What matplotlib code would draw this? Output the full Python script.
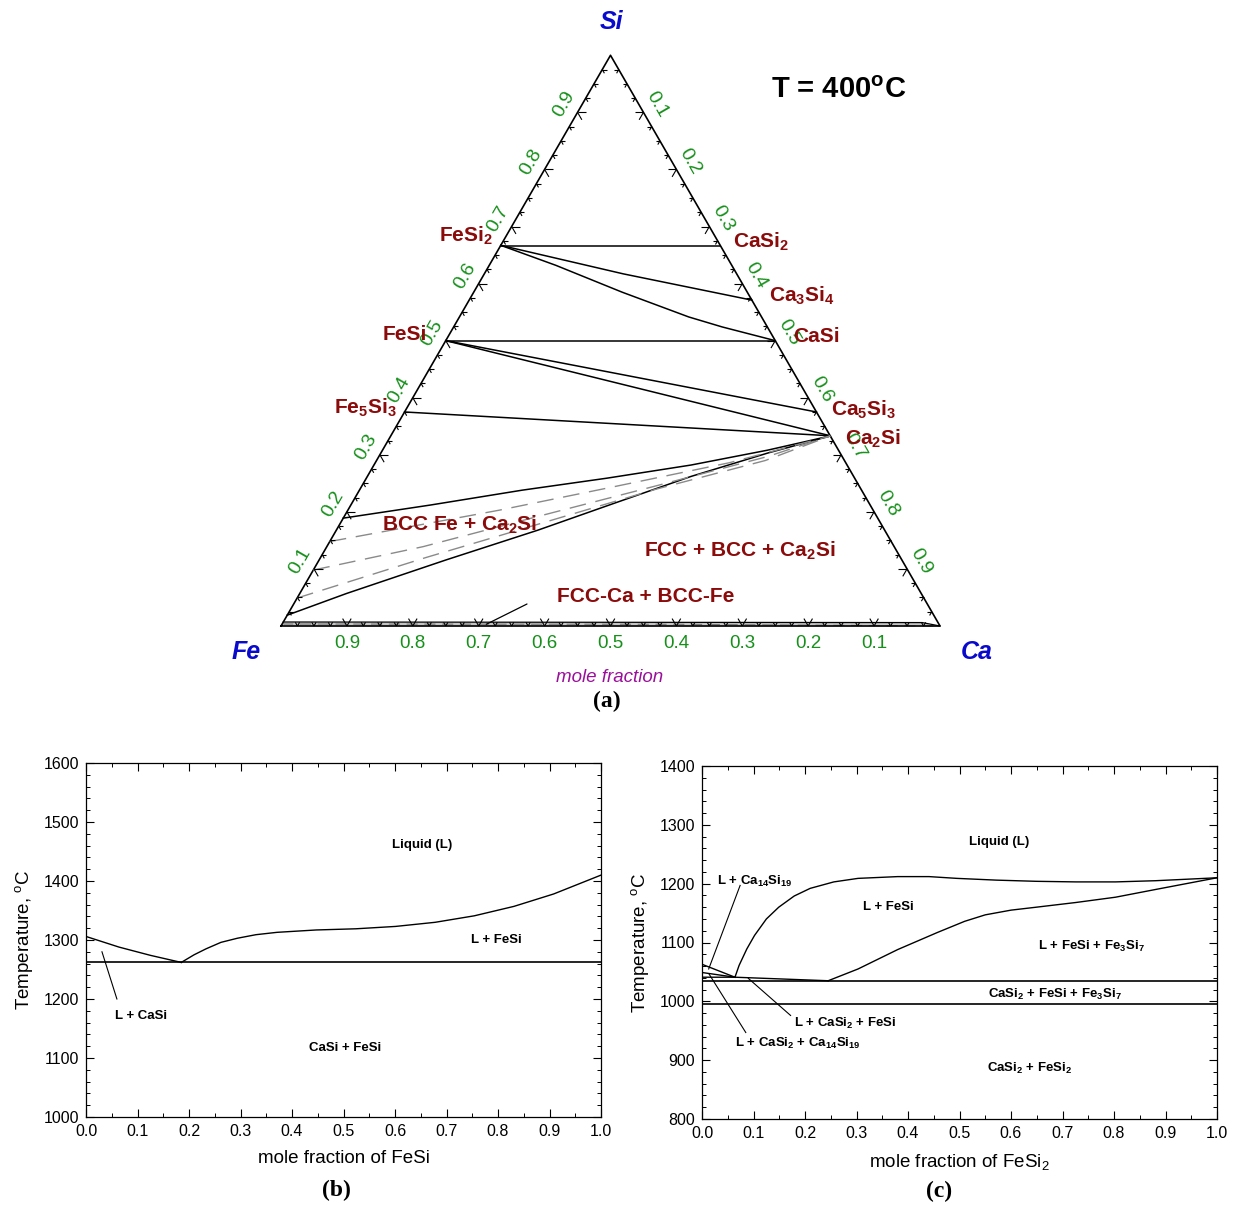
import numpy as np
import matplotlib
matplotlib.use("Agg")
import matplotlib.pyplot as plt
from matplotlib.collections import LineCollection
from matplotlib.ticker import MultipleLocator

plt.rcParams['font.family'] = ['Liberation Sans', 'DejaVu Sans']
plt.rcParams['mathtext.fontset'] = 'custom'
plt.rcParams['mathtext.rm'] = 'Liberation Sans'

GREEN = '#16901a'
DRED = '#8b0a0a'
BLUE = '#0a0acc'
PURPLE = '#9a109a'
SQ3 = np.sqrt(3) / 2

# ---------------- (a) ternary section at 400 C, compositions as (x_Si, x_Ca) ----------------
FESI2 = (2 / 3, 0.0)
FESI = (0.5, 0.0)
FE5SI3 = (0.375, 0.0)
CASI2 = (2 / 3, 1 / 3)
CA3SI4 = (4 / 7, 3 / 7)
CASI = (0.5, 0.5)
CA5SI3 = (0.375, 0.625)
CA2SI = (1 / 3, 2 / 3)

straight_ties = [(FESI2, CASI2), (FESI, CASI), (FESI, CA5SI3), (FESI, CA2SI), (FE5SI3, CA2SI)]

fesi2_ca3si4_si = [0.667, 0.617, 0.571]
fesi2_ca3si4_ca = [0.0, 0.211, 0.429]
fesi2_casi_si = [0.667, 0.632, 0.585, 0.5415, 0.524, 0.5]
fesi2_casi_ca = [0.0, 0.101, 0.225, 0.348, 0.4075, 0.5]

bcc_top_si = [0.189, 0.212, 0.238, 0.259, 0.282, 0.308, 0.333]
bcc_top_ca = [0.0, 0.121, 0.247, 0.365, 0.481, 0.584, 0.667]
bcc_bot_si = [0.019, 0.057, 0.116, 0.168, 0.215, 0.262, 0.303, 0.333]
bcc_bot_ca = [0.0, 0.071, 0.193, 0.306, 0.398, 0.491, 0.587, 0.667]

dash1_si = [0.148, 0.203, 0.244, 0.286, 0.333]
dash1_ca = [0.0, 0.230, 0.383, 0.537, 0.667]
dash2_si = [0.098, 0.139, 0.192, 0.244, 0.297, 0.333]
dash2_ca = [0.0, 0.146, 0.294, 0.442, 0.590, 0.667]
dash3_si = [0.049, 0.120, 0.180, 0.240, 0.290, 0.333]
dash3_ca = [0.0, 0.160, 0.305, 0.450, 0.590, 0.667]

band_si = [0.007, 0.0065, 0.006, 0.0]
band_ca = [0.0, 0.5, 0.97, 1.0]
band_dash_si = [0.0035, 0.003, 0.0]
band_dash_ca = [0.0, 0.6, 1.0]

edge_labels = ['0.1', '0.2', '0.3', '0.4', '0.5', '0.6', '0.7', '0.8', '0.9']
edge_values = [0.1, 0.2, 0.3, 0.4, 0.5, 0.6, 0.7, 0.8, 0.9]

# ---------------- (b) CaSi - FeSi ----------------
b_left_x = [0.0, 0.064, 0.125, 0.185]
b_left_T = [1306, 1288, 1274, 1262]
b_right_x = [0.185, 0.210, 0.233, 0.262, 0.294, 0.330, 0.371, 0.447, 0.524, 0.601, 0.678, 0.754, 0.831, 0.908, 1.0]
b_right_T = [1262, 1275, 1285, 1296, 1303, 1309, 1313, 1317, 1319, 1323, 1330, 1341, 1357, 1378, 1410]
b_eutectic_T = 1262

# ---------------- (c) CaSi2 - FeSi2 ----------------
c_liq_x = [0.064, 0.072, 0.087, 0.102, 0.125, 0.149, 0.179, 0.210, 0.256, 0.303, 0.380, 0.441,
           0.495, 0.572, 0.649, 0.726, 0.803, 0.880, 1.0]
c_liq_T = [1041, 1061, 1089, 1112, 1140, 1160, 1179, 1192, 1203, 1209, 1212, 1212,
           1209, 1206, 1204, 1203, 1203, 1205, 1210]
c_fesi_x = [0.245, 0.303, 0.380, 0.457, 0.510, 0.550, 0.600, 0.649, 0.726, 0.803, 0.880, 1.0]
c_fesi_T = [1035, 1055, 1088, 1117, 1136, 1147, 1155, 1160, 1168, 1177, 1190, 1210]
c_ca14_top_x = [0.0, 0.064]
c_ca14_top_T = [1063, 1041]
c_ca14_bot_x = [0.0, 0.064]
c_ca14_bot_T = [1049, 1041]
c_three_x = [0.0, 0.064, 0.245]
c_three_T = [1041, 1041, 1035]
c_iso1_T = 1035
c_iso2_T = 996


def tern(si, ca):
    si = np.asarray(si, float)
    ca = np.asarray(ca, float)
    return ca + si / 2, si * SQ3


def px(x, y):
    # pixel position of the reference picture -> triangle axes units
    return (x - 281) / 659, (626 - y) / 659


fig = plt.figure(figsize=(12.42, 12.05), dpi=100)

# ===================== ternary =====================
ax = fig.add_axes([0, 1 - 720 / 1205, 1, 720 / 1205])
ax.set_xlim(-281 / 659, (1242 - 281) / 659)
ax.set_ylim(-(720 - 626) / 659, 626 / 659)
ax.axis('off')

# bottom band FCC-Ca + BCC-Fe
bx, by = tern(band_si, band_ca)
ax.fill_between(bx, 0, by, color='#c4c4c4', lw=0)
ax.plot(bx, by, color='k', lw=0.9)
dx, dy = tern(band_dash_si, band_dash_ca)
ax.plot(dx, dy, color='#777777', lw=0.8, dashes=(10, 6))

# triangle outline
tx, ty = tern([0, 1, 0, 0], [0, 0, 1, 0])
ax.plot(tx, ty, color='k', lw=1.2)

# tie lines
for a, b in straight_ties:
    x, y = tern([a[0], b[0]], [a[1], b[1]])
    ax.plot(x, y, color='k', lw=1.1)
for si, ca in [(fesi2_ca3si4_si, fesi2_ca3si4_ca), (fesi2_casi_si, fesi2_casi_ca),
               (bcc_top_si, bcc_top_ca), (bcc_bot_si, bcc_bot_ca)]:
    x, y = tern(si, ca)
    ax.plot(x, y, color='k', lw=1.1)
for si, ca in [(dash1_si, dash1_ca), (dash2_si, dash2_ca), (dash3_si, dash3_ca)]:
    x, y = tern(si, ca)
    ax.plot(x, y, color='#8a8a8a', lw=1.0, dashes=(12, 7))

# edge ticks (every 0.025, major every 0.1)
segs = []
dirs = {
    'bottom': [(0.5, SQ3), (-0.5, SQ3)],
    'left': [(1.0, 0.0), (0.5, -SQ3)],
    'right': [(-1.0, 0.0), (-0.5, -SQ3)],
}
for k in range(1, 40):
    t = k * 0.025
    ln = 0.013 if k % 4 == 0 else 0.0065
    pts = {
        'bottom': tern(0.0, t),
        'left': tern(t, 0.0),
        'right': tern(1 - t, t),
    }
    for side, (x0, y0) in pts.items():
        for ux, uy in dirs[side]:
            segs.append([(x0, y0), (x0 + ln * ux, y0 + ln * uy)])
ax.add_collection(LineCollection(segs, colors='k', linewidths=0.8))

# edge labels
for v, lab in zip(edge_values, edge_labels):
    x, y = tern(0.0, 1 - v)
    ax.text(x, y - 0.027, lab, color=GREEN, fontsize=13.5, ha='center', va='center')
    x, y = tern(v, 0.0)
    ax.text(x - 0.021, y + 0.012, lab, color=GREEN, fontsize=14, ha='center', va='center', rotation=60)
    x, y = tern(1 - v, v)
    ax.text(x + 0.021, y + 0.012, lab, color=GREEN, fontsize=14, ha='center', va='center', rotation=-60)

# vertex labels
for lab, (x, y) in [('Si', (612, 22)), ('Fe', (246, 652)), ('Ca', (977, 652))]:
    ax.text(*px(x, y), lab, color=BLUE, fontsize=18, fontweight='bold', style='italic',
            ha='center', va='center')

ax.text(*px(839, 90), r'T = 400$\mathregular{^o}$C', fontsize=21, fontweight='bold',
        ha='center', va='center')

comp_labels = [
    (r'FeSi$\mathregular{_2}$', (466, 236)),
    (r'CaSi$\mathregular{_2}$', (761, 242)),
    (r'Ca$\mathregular{_3}$Si$\mathregular{_4}$', (802, 296)),
    ('FeSi', (405, 335)),
    ('CaSi', (816, 337)),
    (r'Fe$\mathregular{_5}$Si$\mathregular{_3}$', (365, 408)),
    (r'Ca$\mathregular{_5}$Si$\mathregular{_3}$', (864, 410)),
    (r'Ca$\mathregular{_2}$Si', (873, 439)),
    (r'BCC Fe + Ca$\mathregular{_2}$Si', (460, 525)),
    (r'FCC + BCC + Ca$\mathregular{_2}$Si', (740, 551)),
    ('FCC-Ca + BCC-Fe', (646, 597)),
]
for lab, (x, y) in comp_labels:
    ax.text(*px(x, y), lab, color=DRED, fontsize=15, fontweight='bold', ha='center', va='center')

ax.annotate('', xy=tern(0.003, 0.31), xytext=px(527, 604),
            arrowprops=dict(arrowstyle='-', color='k', lw=0.9, shrinkA=0, shrinkB=0))

ax.text(*px(610, 677), 'mole fraction', color=PURPLE, fontsize=13.5, style='italic',
        ha='center', va='center')
fig.text(607 / 1242, 1 - 701 / 1205, '(a)', fontsize=17, fontweight='bold',
         family='Liberation Serif', ha='center', va='center')


# ===================== binary sections =====================
def style_axes(a, ymin, ymax):
    a.set_xlim(0, 1)
    a.set_ylim(ymin, ymax)
    a.xaxis.set_major_locator(MultipleLocator(0.1))
    a.xaxis.set_minor_locator(MultipleLocator(0.05))
    a.yaxis.set_major_locator(MultipleLocator(100))
    a.yaxis.set_minor_locator(MultipleLocator(20))
    a.tick_params(which='both', direction='in', top=True, right=True, labelsize=11.5, pad=5)
    a.tick_params(which='major', length=6, width=0.8)
    a.tick_params(which='minor', length=3, width=0.7)
    for s in a.spines.values():
        s.set_linewidth(0.9)
    a.set_ylabel(r'Temperature, $\mathregular{^o}$C', fontsize=13.5, labelpad=6)


lab_kw = dict(fontsize=9.5, fontweight='bold', ha='center', va='center')
line_kw = dict(color='k', lw=1.0)

axb = fig.add_axes([86 / 1242, 1 - 1117 / 1205, 515 / 1242, 354 / 1205])
style_axes(axb, 1000, 1600)
axb.plot(b_left_x, b_left_T, **line_kw)
axb.plot(b_right_x, b_right_T, **line_kw)
axb.plot([0, 1], [b_eutectic_T, b_eutectic_T], color='k', lw=1.2)
axb.plot([0.031, 0.060], [1280, 1200], color='k', lw=0.8)
axb.text(0.107, 1172, 'L + CaSi', **lab_kw)
axb.text(0.652, 1461, 'Liquid (L)', **lab_kw)
axb.text(0.796, 1300, 'L + FeSi', **lab_kw)
axb.text(0.503, 1117, 'CaSi + FeSi', **lab_kw)
axb.set_xlabel('mole fraction of FeSi', fontsize=13.5, labelpad=8)
fig.text(336 / 1242, 1 - 1190 / 1205, '(b)', fontsize=17, fontweight='bold',
         family='Liberation Serif', ha='center', va='center')

axc = fig.add_axes([702 / 1242, 1 - 1119 / 1205, 515 / 1242, 353 / 1205])
style_axes(axc, 800, 1400)
axc.plot(c_liq_x, c_liq_T, **line_kw)
axc.plot(c_fesi_x, c_fesi_T, **line_kw)
axc.plot(c_ca14_top_x, c_ca14_top_T, **line_kw)
axc.plot(c_ca14_bot_x, c_ca14_bot_T, **line_kw)
axc.plot(c_three_x, c_three_T, **line_kw)
axc.plot([0, 1], [c_iso1_T, c_iso1_T], color='k', lw=1.2)
axc.plot([0, 1], [c_iso2_T, c_iso2_T], color='k', lw=1.2)
# leaders
axc.plot([0.013, 0.074], [1055, 1197], color='k', lw=0.8)
axc.plot([0.090, 0.172], [1039, 976], color='k', lw=0.8)
axc.plot([0.014, 0.085], [1046, 947], color='k', lw=0.8)
axc.text(0.577, 1271, 'Liquid (L)', **lab_kw)
axc.text(0.103, 1204, r'L + Ca$\mathregular{_{14}}$Si$\mathregular{_{19}}$', **lab_kw)
axc.text(0.361, 1160, 'L + FeSi', **lab_kw)
axc.text(0.757, 1094, r'L + FeSi + Fe$\mathregular{_3}$Si$\mathregular{_7}$', **lab_kw)
axc.text(0.685, 1011, r'CaSi$\mathregular{_2}$ + FeSi + Fe$\mathregular{_3}$Si$\mathregular{_7}$', **lab_kw)
axc.text(0.278, 963, r'L + CaSi$\mathregular{_2}$ + FeSi', **lab_kw)
axc.text(0.186, 929, r'L + CaSi$\mathregular{_2}$ + Ca$\mathregular{_{14}}$Si$\mathregular{_{19}}$', **lab_kw)
axc.text(0.637, 886, r'CaSi$\mathregular{_2}$ + FeSi$\mathregular{_2}$', **lab_kw)
axc.set_xlabel(r'mole fraction of FeSi$\mathregular{_2}$', fontsize=13.5, labelpad=8)
fig.text(939 / 1242, 1 - 1191 / 1205, '(c)', fontsize=17, fontweight='bold',
         family='Liberation Serif', ha='center', va='center')

fig.savefig('out.png', dpi=100, facecolor='white')
